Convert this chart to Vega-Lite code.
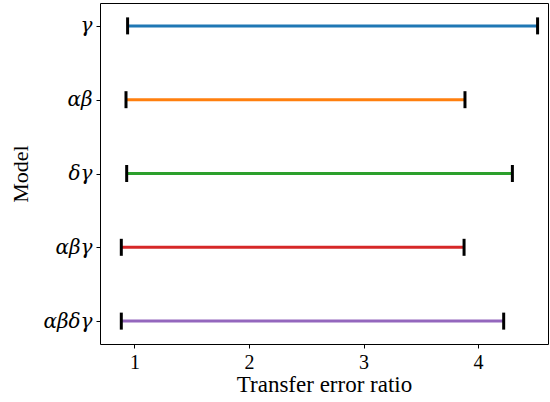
{
  "$schema": "https://vega.github.io/schema/vega-lite/v6.json",
  "autosize": {"type": "none"},
  "width": 448,
  "height": 341,
  "padding": {"left": 100, "top": 3, "right": 2, "bottom": 58},
  "background": "white",
  "config": {
    "view": {"stroke": "black", "strokeWidth": 1},
    "axis": {
      "labelFont": "Liberation Serif",
      "titleFont": "Liberation Serif",
      "labelColor": "black",
      "titleColor": "black",
      "titleFontWeight": "normal",
      "domain": false,
      "grid": false,
      "tickColor": "black",
      "tickSize": 4,
      "labelPadding": 4
    }
  },
  "data": {
    "values": [
      {"model": "γ", "low": 0.94, "high": 4.52},
      {"model": "αβ", "low": 0.926, "high": 3.886},
      {"model": "δγ", "low": 0.932, "high": 4.30},
      {"model": "αβγ", "low": 0.885, "high": 3.878},
      {"model": "αβδγ", "low": 0.885, "high": 4.224}
    ]
  },
  "encoding": {
    "y": {
      "field": "model",
      "type": "nominal",
      "sort": ["γ", "αβ", "δγ", "αβγ", "αβδγ"],
      "scale": {"type": "point", "padding": 0.31},
      "axis": {"title": "Model", "labelFont": "DejaVu Serif", "labelFontSize": 20, "labelFontStyle": "italic", "titleFont": "Liberation Serif", "titleFontSize": 22, "titlePadding": 10}
    }
  },
  "layer": [
    {
      "mark": {"type": "rule", "strokeWidth": 3},
      "encoding": {
        "x": {
          "field": "low",
          "type": "quantitative",
          "scale": {"domain": [0.699, 4.611], "nice": false, "zero": false},
          "axis": {"title": "Transfer error ratio", "values": [1, 2, 3, 4], "format": "d", "labelFont": "Liberation Serif", "labelFontSize": 20, "titleFont": "Liberation Serif", "titleFontSize": 23, "titlePadding": 1}
        },
        "x2": {"field": "high"},
        "color": {
          "field": "model",
          "type": "nominal",
          "sort": ["γ", "αβ", "δγ", "αβγ", "αβδγ"],
          "scale": {"range": ["#1f77b4", "#ff7f0e", "#2ca02c", "#d62728", "#9467bd"]},
          "legend": null
        }
      }
    },
    {
      "mark": {"type": "tick", "orient": "vertical", "color": "black", "thickness": 3, "size": 17, "opacity": 1},
      "encoding": {"x": {"field": "low", "type": "quantitative"}}
    },
    {
      "mark": {"type": "tick", "orient": "vertical", "color": "black", "thickness": 3, "size": 17, "opacity": 1},
      "encoding": {"x": {"field": "high", "type": "quantitative"}}
    }
  ]
}
